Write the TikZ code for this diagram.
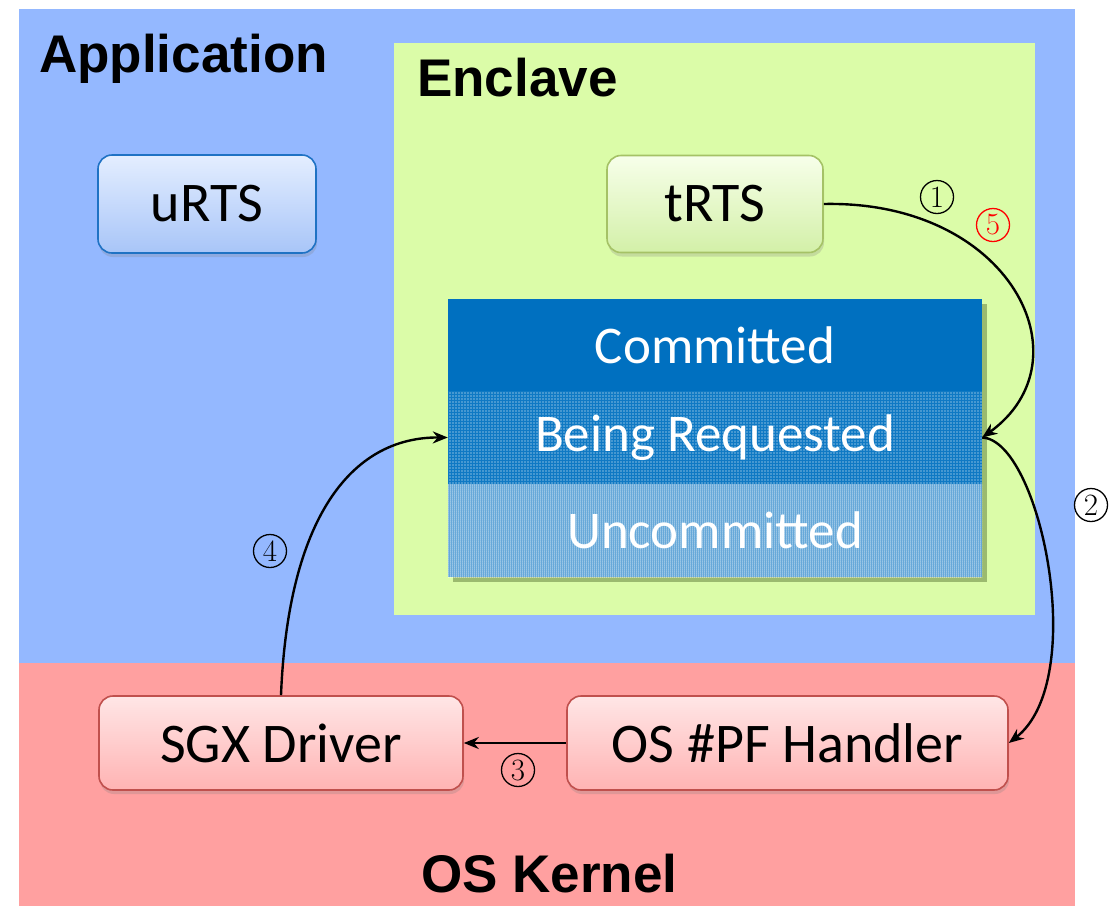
\documentclass[tikz,border=0pt]{standalone}
\usepackage{fontspec}
\newfontfamily\headfont{Liberation Sans}
\newfontfamily\boxfont{Carlito}
\usetikzlibrary{arrows.meta,shadows,patterns.meta}

\definecolor{appblue}{HTML}{94B8FF}
\definecolor{kernelpink}{HTML}{FFA0A0}
\definecolor{enclavegreen}{HTML}{DBFCA8}
\definecolor{memblue}{HTML}{0070C0}
\definecolor{urtsedge}{HTML}{1F72C4}
\definecolor{urtstop}{HTML}{E4EEFF}
\definecolor{urtsbot}{HTML}{A8C5F8}
\definecolor{trtsedge}{HTML}{A5C266}
\definecolor{trtstop}{HTML}{F7FFEA}
\definecolor{trtsbot}{HTML}{D3F0A8}
\definecolor{osedge}{HTML}{C0504D}
\definecolor{ostop}{HTML}{FFE6E6}
\definecolor{osbot}{HTML}{FFB3B3}
\definecolor{memshadow}{HTML}{4F6A2A}

\begin{document}
\begin{tikzpicture}[x=1pt,y=-1pt,
  heading/.style={anchor=base west, inner sep=0pt,
    font=\headfont\bfseries\fontsize{53}{60}\selectfont},
  modbox/.style={rounded corners=14pt, line width=1.6pt, inner sep=0pt,
    font=\boxfont\fontsize{56}{60}\selectfont,
    drop shadow={opacity=0.25, shadow xshift=1pt, shadow yshift=-4pt}},
  band/.style={minimum width=534pt, inner sep=0pt, text=white,
    font=\boxfont\fontsize{53}{60}\selectfont},
  stepnum/.style={circle, draw, line width=1.3pt, minimum size=33pt,
    inner sep=0pt, font=\fontsize{31}{31}\selectfont},
  flow/.style={line width=2.4pt, -{Stealth[length=15pt,width=12pt]}}
]
\useasboundingbox (0,0) rectangle (1117,906);

% address-space regions
\fill[appblue] (19,9) rectangle (1075,663);
\fill[kernelpink] (19,663) rectangle (1075,906);
\fill[enclavegreen] (394,43) rectangle (1035,615);

\node[heading] (app) at (39,72) {Application};
\node[heading] (encl) at (417,96) {Enclave};
\node[heading] (kern) at (421,892) {OS Kernel};

% runtime components
\node[modbox, draw=urtsedge, top color=urtstop, bottom color=urtsbot,
  minimum width=218pt, minimum height=98pt] (urts) at (207,204) {uRTS};
\node[modbox, draw=trtsedge, top color=trtstop, bottom color=trtsbot,
  minimum width=216pt, minimum height=97pt] (trts) at (715,204) {tRTS};
\node[modbox, draw=osedge, top color=ostop, bottom color=osbot,
  minimum width=364pt, minimum height=94pt] (sgx) at (281,743) {SGX Driver};
\node[modbox, draw=osedge, top color=ostop, bottom color=osbot,
  minimum width=441pt, minimum height=94pt] (pf) at (787.5,743) {OS \#PF Handler};

% enclave memory pages
\node[minimum width=534pt, minimum height=278pt, inner sep=0pt, fill=memblue,
  drop shadow={opacity=0.45, fill=memshadow, shadow xshift=5pt, shadow yshift=-5pt}]
  (mem) at (715,438) {};
\node[band, minimum height=92pt, fill=memblue] (committed) at (715,345) {Committed};
\node[band, minimum height=93pt, fill=memblue!94!white,
  postaction={pattern={Dots[radius=0.7pt,distance=3pt]}, pattern color=white}]
  (requested) at (715,437.5) {};
\node[band, minimum height=93pt, fill=memblue!78!white,
  postaction={pattern={Dots[radius=0.75pt,distance=2pt]}, pattern color=white}]
  (uncommitted) at (715,530.5) {};
\node[band] at (requested) {Being Requested};
\node[band] at (uncommitted) {Uncommitted};

% page-fault flow
\draw[flow] (trts.east) .. controls (1010,200) and (1090,360) .. (requested.east);
\draw[flow] (requested.east) .. controls (1040,440) and (1090,680) .. (pf.east);
\draw[flow] (pf.west) -- (sgx.east);
\draw[flow] (sgx.north) .. controls (288,520) and (350,437) .. (requested.west);

% step numbers
\node[stepnum] (s1) at (937,197) {1};
\node[stepnum] (s2) at (1091,505) {2};
\node[stepnum] (s3) at (518,770) {3};
\node[stepnum] (s4) at (270,551) {4};
\node[stepnum, draw=red, text=red] (s5) at (993,225) {5};
\end{tikzpicture}
\end{document}
